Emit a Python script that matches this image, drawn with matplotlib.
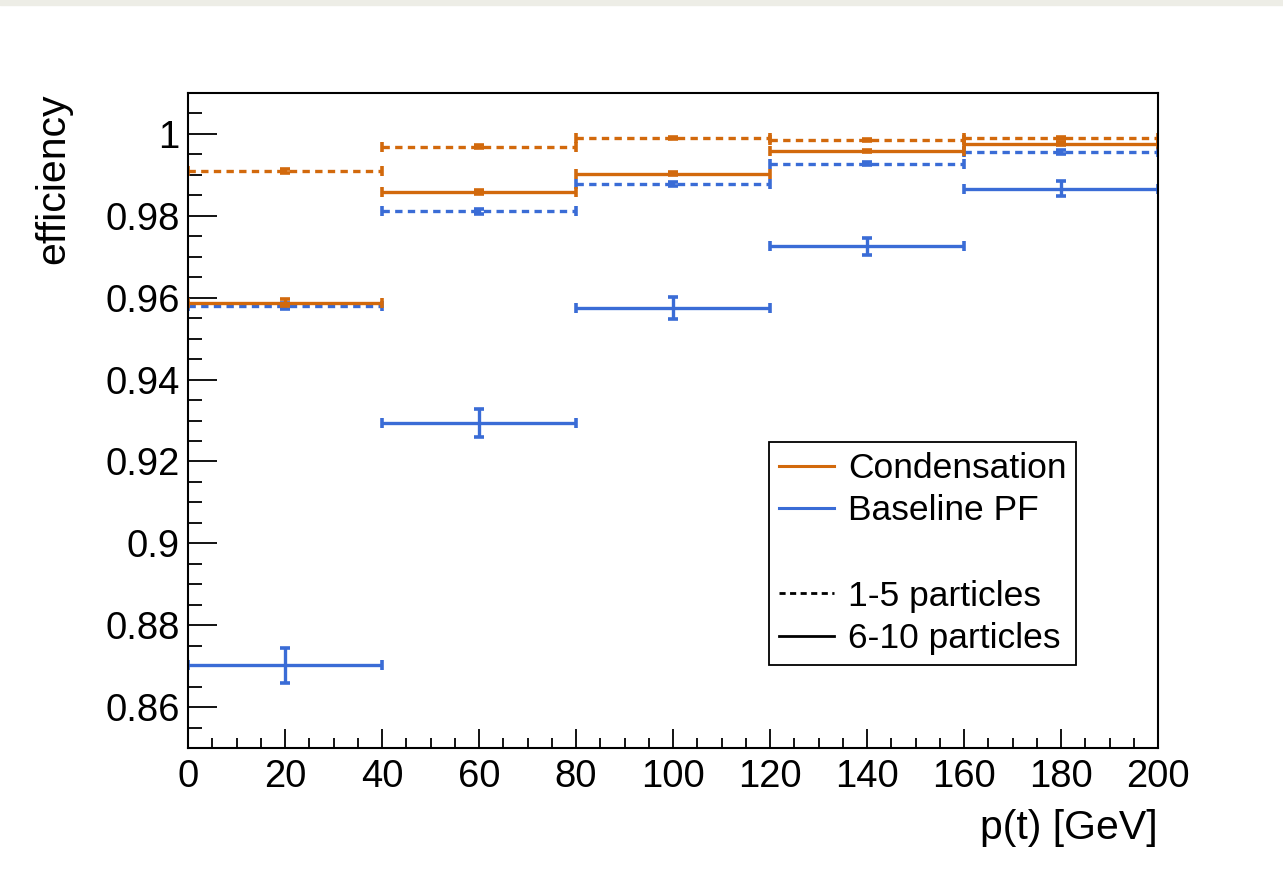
import numpy as np
import matplotlib
matplotlib.use('Agg')
import matplotlib.pyplot as plt
from matplotlib.lines import Line2D
from matplotlib.patches import Rectangle

plt.rcParams['font.family'] = ['Liberation Sans', 'DejaVu Sans']

# pT bins [GeV]
bin_edges = [0, 40, 80, 120, 160, 200]

# efficiency per bin and its statistical error
cond_15 = [0.9909, 0.9969, 0.9990, 0.9985, 0.9990]
cond_15_err = [0.0005, 0.0003, 0.0002, 0.0003, 0.0003]
cond_610 = [0.9588, 0.9859, 0.9903, 0.9958, 0.9976]
cond_610_err = [0.0008, 0.0005, 0.0004, 0.0003, 0.0004]
base_15 = [0.9579, 0.9811, 0.9877, 0.9927, 0.9956]
base_15_err = [0.0007, 0.0006, 0.0005, 0.0004, 0.0004]
base_610 = [0.8702, 0.9294, 0.9574, 0.9726, 0.9866]
base_610_err = [0.0043, 0.0034, 0.0027, 0.0021, 0.0018]

orange = '#d2690c'
blue = '#3a6cd6'

edges = np.array(bin_edges, dtype=float)
centers = 0.5 * (edges[1:] + edges[:-1])
halfw = 0.5 * (edges[1:] - edges[:-1])

fig = plt.figure(figsize=(12.83, 8.77), dpi=100)
fig.patches.append(Rectangle((0, 1 - 5 / 877), 1, 5 / 877, transform=fig.transFigure,
                             color='#edede6', zorder=0))
ax = fig.add_axes([188 / 1283, 1 - 748 / 877, 970 / 1283, 655 / 877])


def draw(vals, errs, color, dashed):
    eb = ax.errorbar(centers, vals, xerr=halfw, yerr=errs, fmt='none',
                     ecolor=color, elinewidth=2.4, capsize=3.5, capthick=2.6)
    if dashed:
        eb[2][0].set_linestyle((0, (2.2, 1.6)))


draw(cond_15, cond_15_err, orange, True)
draw(base_15, base_15_err, blue, True)
draw(base_610, base_610_err, blue, False)
draw(cond_610, cond_610_err, orange, False)

ax.set_xlim(0, 200)
ax.set_ylim(0.85, 1.01)
ax.set_xticks(np.arange(0, 201, 20))
ax.set_xticks(np.arange(0, 201, 5), minor=True)
ax.set_yticks(np.arange(0.86, 1.001, 0.02))
ax.set_yticks(np.arange(0.85, 1.0101, 0.005), minor=True)
ax.set_yticklabels(['0.86', '0.88', '0.9', '0.92', '0.94', '0.96', '0.98', '1'])

ax.tick_params(which='both', direction='in', labelsize=27.5, width=1.3, color='black')
ax.tick_params(axis='x', which='major', length=14, pad=8)
ax.tick_params(axis='x', which='minor', length=7)
ax.tick_params(axis='y', which='major', length=21, pad=6)
ax.tick_params(axis='y', which='minor', length=10)
for s in ax.spines.values():
    s.set_linewidth(1.5)

ax.set_xlabel('p(t) [GeV]', fontsize=29.5, loc='right', labelpad=10)
ax.set_ylabel('efficiency', fontsize=29.5, loc='top', labelpad=24)

handles = [Line2D([], [], color=orange, lw=2.2),
           Line2D([], [], color=blue, lw=2.2),
           Line2D([], [], color='none'),
           Line2D([], [], color='black', lw=2, ls=(0, (2.2, 1.6))),
           Line2D([], [], color='black', lw=2)]
labels = ['Condensation', 'Baseline PF', ' ', '1-5 particles', '6-10 particles']
leg = ax.legend(handles, labels, loc='upper left',
                bbox_to_anchor=((769 - 188) / 970, (748 - 442) / 655),
                fontsize=25.5, frameon=True, fancybox=False, edgecolor='black',
                framealpha=1, handlelength=1.55, handletextpad=0.4,
                borderpad=0.28, labelspacing=0.27, borderaxespad=0)
leg.get_frame().set_linewidth(1.3)

fig.savefig('out.png', dpi=100)
